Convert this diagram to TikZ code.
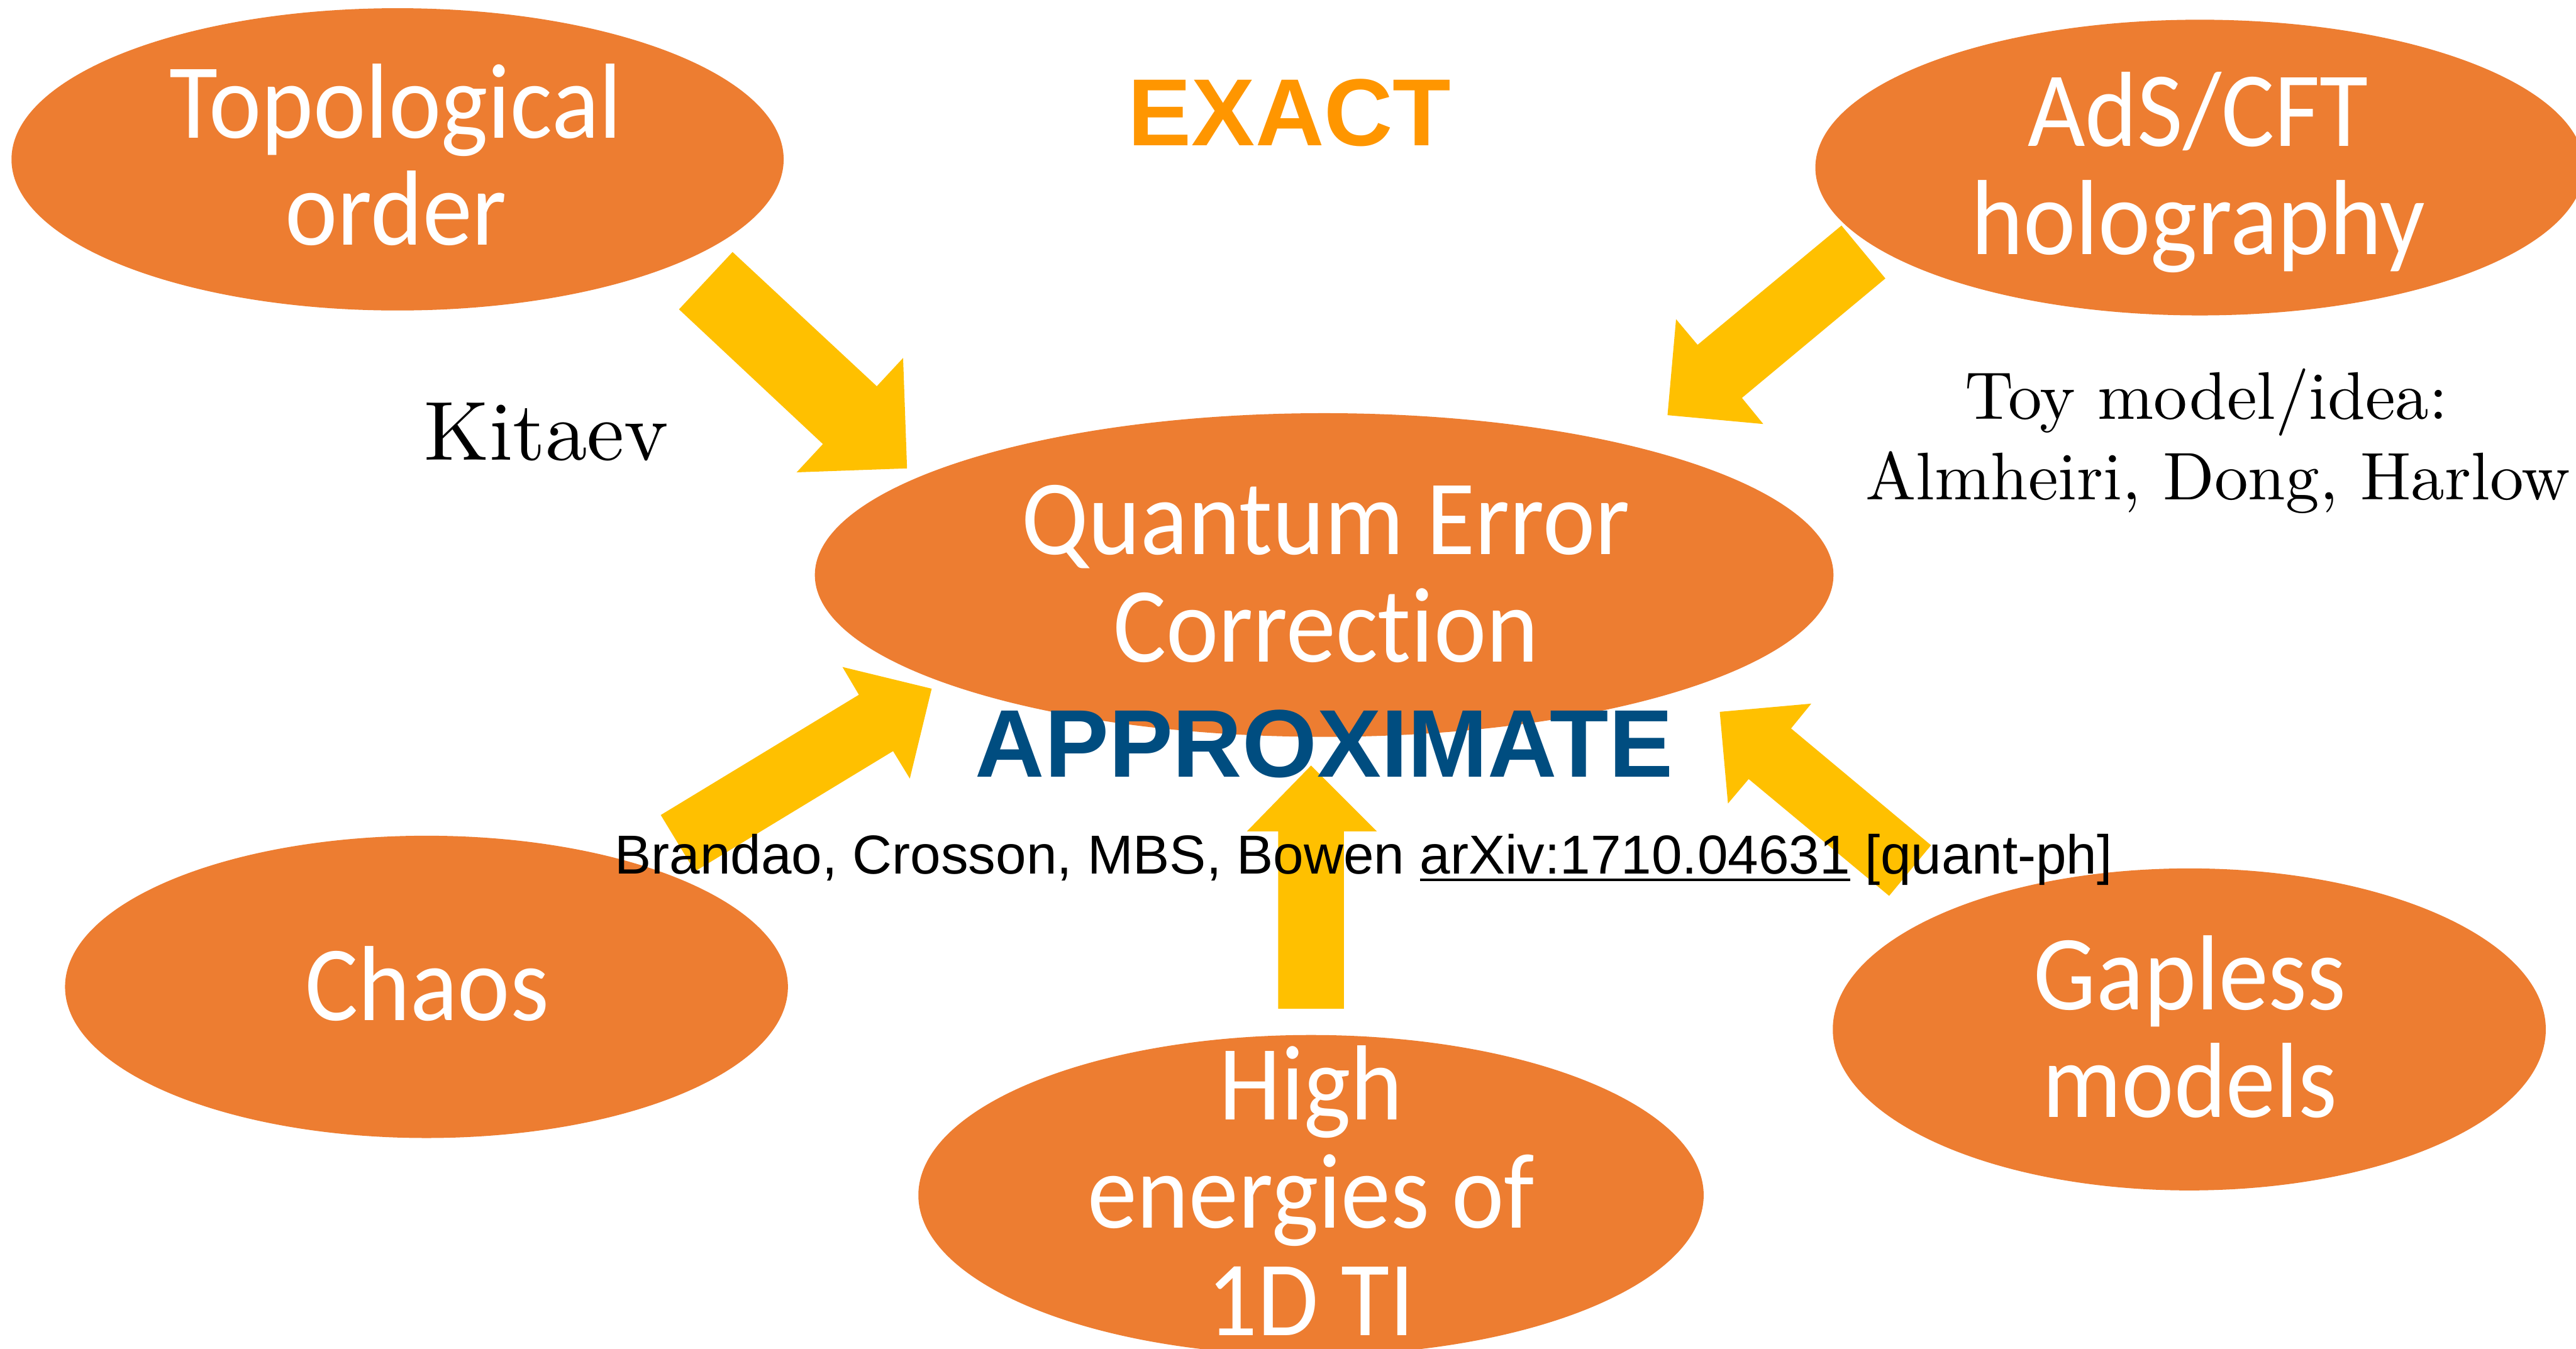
\documentclass[tikz,border=0pt]{standalone}
\usepackage{fontspec}
\newfontfamily\gillfont[FakeStretch=0.93,Ligatures=NoCommon]{Carlito}
\newfontfamily\arialfont{Liberation Sans}
\newfontfamily\cmten{lmroman10-regular}[Extension=.otf]
\usetikzlibrary{shapes.geometric}
\definecolor{blobc}{RGB}{237,125,49}
\definecolor{goldc}{RGB}{255,192,0}
\definecolor{exactc}{RGB}{255,150,0}
\definecolor{approxc}{RGB}{0,77,128}
\newcommand\citeul[1]{\setbox0\hbox{#1}\rlap{\rule[-4.2pt]{\wd0}{1.5pt}}\box0\relax}
\begin{document}
\begin{tikzpicture}[x=1pt,y=-1pt,
  blob/.style={ellipse, fill=blobc, draw=none, inner sep=0pt},
  blobtext/.style={anchor=base, text=white, inner sep=0pt, font=\gillfont\fontsize{65}{65}\selectfont},
  blockarrow/.style={fill=goldc, draw=none},
  serifnote/.style={anchor=base, inner sep=0pt, text=black},
]
\clip (0,0) rectangle (1568,821);
\fill[white] (0,0) rectangle (1568,821);

% block arrows
\fill[blockarrow] (413.3,188.3) -- (445.9,153.4) -- (533.7,235.1) -- (549.7,217.9) -- (552.1,285.1) -- (484.9,287.5) -- (500.9,270.3) -- cycle;
\fill[blockarrow] (1120.9,137.3) -- (1147.6,169.5) -- (1060.3,242.2) -- (1073.3,258.1) -- (1015.0,252.7) -- (1020.2,194.3) -- (1033.3,209.9) -- cycle;
\fill[blockarrow] (402.2,496.1) -- (522.8,422.9) -- (512.8,406.0) -- (567.1,419.2) -- (553.8,473.9) -- (543.6,457.2) -- (423.0,530.4) -- cycle;
\fill[blockarrow] (1149.9,545.3) -- (1064.4,474.2) -- (1051.8,489.1) -- (1046.8,433.3) -- (1102.5,428.3) -- (1090.2,443.4) -- (1175.4,514.5) -- cycle;
\fill[blockarrow] (778,614) -- (778,506) -- (759,506) -- (798,466) -- (838,506) -- (818,506) -- (818,614) -- cycle;

% ellipses
\node[blob, minimum width=470pt, minimum height=184pt] (topo) at (242,97) {};
\node[blob, minimum width=468pt, minimum height=180pt] (ads) at (1339,102) {};
\node[blob, minimum width=620pt, minimum height=197pt] (qec) at (806,350) {};
\node[blob, minimum width=440pt, minimum height=184pt] (chaos) at (259.6,600.7) {};
\node[blob, minimum width=434pt, minimum height=196pt] (gapless) at (1332.6,626.6) {};
\node[blob, minimum width=478pt, minimum height=195pt] (high) at (798,727.5) {};

% ellipse texts
\node[blobtext] (topoA) at (241,84) {Topological};
\node[blobtext] (topoB) at (241,149) {order};
\node[blobtext] (adsA) at (1338,89) {AdS/CFT};
\node[blobtext] (adsB) at (1338,155) {holography};
\node[blobtext] (qecA) at (807,337.5) {Quantum Error};
\node[blobtext] (qecB) at (807,403) {Correction};
\node[blobtext] (chaosA) at (260,621) {Chaos};
\node[blobtext] (gapA) at (1333,614.6) {Gapless};
\node[blobtext] (gapB) at (1333,680.2) {models};
\node[blobtext] (highA) at (798,681.6) {High};
\node[blobtext] (highB) at (798,747.6) {energies of};
\node[blobtext] (highC) at (798,813) {1D TI};

% labels
\node[anchor=base, inner sep=0pt, text=exactc, font=\arialfont\bfseries\fontsize{58}{58}\selectfont] (exact) at (785,88.5) {EXACT};
\node[anchor=base, inner sep=0pt, text=approxc, font=\arialfont\bfseries\fontsize{58.5}{58.5}\selectfont] (approx) at (806,473) {APPROXIMATE};
\node[anchor=base west, inner sep=0pt, font=\arialfont\fontsize{33.4}{33.4}\selectfont] (cite) at (374,532) {Brandao, Crosson, MBS, Bowen \citeul{arXiv:1710.04631} [quant-ph]};
\node[serifnote, anchor=base west, font=\cmten\fontsize{51}{51}\selectfont] (kitaev) at (258,280) {Kitaev};
\node[serifnote, font=\cmten\fontsize{41}{41}\selectfont] (toy) at (1343,255) {Toy model/idea:};
\node[serifnote, font=\cmten\fontsize{41}{41}\selectfont] (adh) at (1350,304) {Almheiri, Dong, Harlow};
\end{tikzpicture}
\end{document}
